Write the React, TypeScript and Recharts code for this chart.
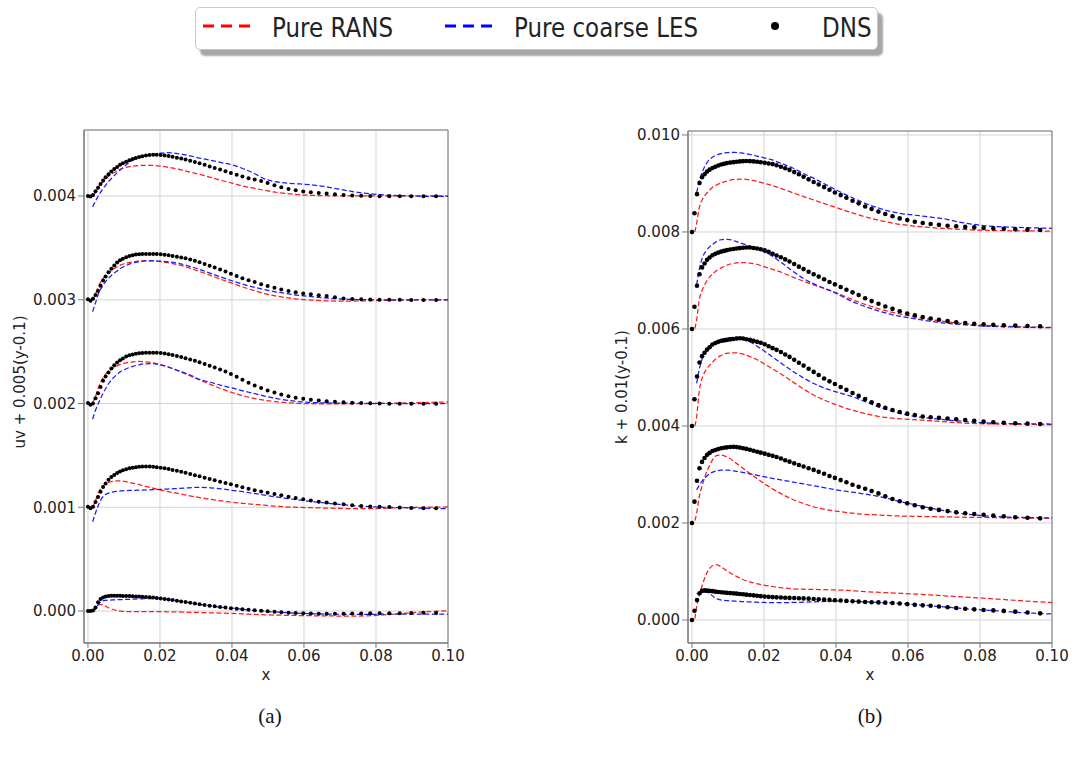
import React from 'react';
import { ComposedChart, Line, Scatter, XAxis, YAxis, CartesianGrid, ReferenceArea, Label } from 'recharts';

// ---------- shared axes ----------
const X_TICKS = [0, 0.02, 0.04, 0.06, 0.08, 0.1];
const UV_TICKS = [0, 0.001, 0.002, 0.003, 0.004];
const K_TICKS = [0, 0.002, 0.004, 0.006, 0.008, 0.01];
const X_DOMAIN = [-0.0011, 0.1];
const UV_DOMAIN = [-0.000308, 0.004636];
const K_DOMAIN = [-0.000474, 0.010082];

// curve baselines (value of 0.005(y-0.1) and 0.01(y-0.1))
const UV_OFFSETS = [0.004, 0.003, 0.002, 0.001, 0];
const K_OFFSETS = [0.008, 0.006, 0.004, 0.002, 0];
const UNIT = 1e-4; // deviations below are in units of 1e-4

// ---------- x positions ----------
const DNS_X = [0, 0.0007, 0.0014, 0.0021, 0.0028, 0.0035, 0.0042, 0.0049, 0.0057, 0.0065,
  0.0073, 0.0081, 0.0089, 0.0097, 0.0106, 0.0115, 0.0124, 0.0133, 0.0142, 0.0151,
  0.0161, 0.0171, 0.0181, 0.0191, 0.0202, 0.0213, 0.0224, 0.0235, 0.0247, 0.0259,
  0.0271, 0.0284, 0.0297, 0.031, 0.0324, 0.0338, 0.0352, 0.0367, 0.0382, 0.0397,
  0.0413, 0.0429, 0.0446, 0.0463, 0.0481, 0.0499, 0.0518, 0.0537, 0.0557, 0.0577,
  0.0598, 0.0619, 0.0641, 0.0663, 0.0686, 0.071, 0.0734, 0.0759, 0.0784, 0.081,
  0.0837, 0.0866, 0.0898, 0.0932, 0.0967];

const LINE_X_UV = [0.0013, 0.002, 0.003, 0.004, 0.005, 0.006, 0.007, 0.008, 0.009, 0.01,
  0.012, 0.014, 0.016, 0.018, 0.02, 0.022, 0.025, 0.028, 0.031, 0.034, 0.037, 0.04, 0.043,
  0.046, 0.049, 0.052, 0.055, 0.058, 0.062, 0.066, 0.07, 0.075, 0.08, 0.085, 0.09, 0.095, 0.1];

const LINE_X_K = [0.0008, 0.0013, 0.002, 0.003, 0.004, 0.005, 0.006, 0.007, 0.008, 0.009, 0.01,
  0.012, 0.014, 0.016, 0.018, 0.02, 0.022, 0.025, 0.028, 0.031, 0.034, 0.037, 0.04, 0.043,
  0.046, 0.049, 0.052, 0.055, 0.058, 0.062, 0.066, 0.07, 0.075, 0.08, 0.085, 0.09, 0.095, 0.1];

// ---------- (a) uv : Pure RANS ----------
const uvRans1 = [0.0, 0.3, 0.9, 1.3, 1.65, 1.97, 2.2, 2.4, 2.58, 2.7, 2.86, 2.93, 2.96, 2.95, 2.89, 2.78, 2.58, 2.33, 2.08, 1.8, 1.5, 1.25, 0.97, 0.76, 0.55, 0.37, 0.24, 0.13, 0.06, 0.03, 0.01, 0, 0, 0, 0, 0, 0];
const uvRans2 = [0.0, 0.5, 1.35, 1.95, 2.35, 2.67, 2.93, 3.15, 3.34, 3.47, 3.63, 3.72, 3.76, 3.74, 3.68, 3.58, 3.38, 3.08, 2.72, 2.35, 1.96, 1.6, 1.23, 0.9, 0.6, 0.38, 0.2, 0.07, -0.03, -0.1, -0.13, -0.12, -0.08, -0.05, -0.02, 0, 0];
const uvRans3 = [0.05, 0.6, 1.65, 2.35, 2.85, 3.18, 3.42, 3.62, 3.77, 3.87, 4.0, 4.05, 4.02, 3.93, 3.76, 3.55, 3.15, 2.72, 2.27, 1.84, 1.42, 1.06, 0.74, 0.5, 0.32, 0.18, 0.09, 0.02, -0.02, -0.03, -0.03, -0.02, 0, 0.03, 0.07, 0.11, 0.15];
const uvRans4 = [0.0, 0.55, 1.5, 2.0, 2.28, 2.42, 2.5, 2.54, 2.54, 2.5, 2.36, 2.2, 2.02, 1.85, 1.68, 1.53, 1.33, 1.12, 0.94, 0.76, 0.61, 0.49, 0.37, 0.28, 0.2, 0.1, 0.04, 0, -0.04, -0.08, -0.11, -0.13, -0.12, -0.06, -0.02, 0.01, 0.03];
const uvRans5 = [0.05, 0.3, 0.62, 0.62, 0.45, 0.28, 0.15, 0.06, 0.0, -0.03, -0.06, -0.06, -0.06, -0.06, -0.06, -0.07, -0.09, -0.12, -0.14, -0.17, -0.2, -0.23, -0.27, -0.32, -0.36, -0.39, -0.41, -0.43, -0.45, -0.47, -0.48, -0.48, -0.42, -0.3, -0.15, -0.05, 0.03];

// ---------- (a) uv : Pure coarse LES ----------
const uvLes1 = [-1.05, -0.55, 0.08, 0.62, 1.08, 1.5, 1.85, 2.2, 2.53, 2.82, 3.35, 3.7, 3.92, 4.05, 4.12, 4.17, 4.08, 3.9, 3.65, 3.45, 3.22, 3.0, 2.65, 2.2, 1.65, 1.38, 1.25, 1.18, 1.07, 0.9, 0.64, 0.35, 0.16, 0.06, 0.0, -0.03, -0.03];
const uvLes2 = [-1.15, -0.4, 0.65, 1.3, 1.8, 2.18, 2.5, 2.75, 3.02, 3.2, 3.5, 3.66, 3.74, 3.76, 3.72, 3.67, 3.52, 3.25, 2.93, 2.55, 2.18, 1.83, 1.5, 1.22, 0.98, 0.77, 0.6, 0.44, 0.3, 0.18, 0.08, 0.02, 0, 0, 0, 0, 0];
const uvLes3 = [-1.5, -0.75, 0.1, 0.85, 1.5, 2.05, 2.45, 2.78, 3.07, 3.25, 3.53, 3.72, 3.83, 3.84, 3.74, 3.55, 3.18, 2.8, 2.33, 2.05, 1.75, 1.5, 1.22, 0.98, 0.72, 0.5, 0.33, 0.2, 0.1, 0.06, 0.04, 0.03, 0.01, 0, 0, 0, 0];
const uvLes4 = [-1.4, -0.65, 0.3, 0.95, 1.25, 1.4, 1.48, 1.53, 1.57, 1.6, 1.63, 1.65, 1.67, 1.69, 1.72, 1.76, 1.81, 1.87, 1.93, 1.88, 1.78, 1.63, 1.5, 1.34, 1.17, 1.01, 0.86, 0.73, 0.57, 0.41, 0.27, 0.13, 0.03, -0.02, -0.06, -0.1, -0.13];
const uvLes5 = [-0.05, 0.15, 0.7, 0.98, 1.03, 1.06, 1.08, 1.09, 1.1, 1.11, 1.14, 1.17, 1.19, 1.2, 1.19, 1.12, 0.98, 0.81, 0.65, 0.5, 0.37, 0.27, 0.17, 0.07, -0.02, -0.09, -0.15, -0.2, -0.25, -0.29, -0.31, -0.32, -0.31, -0.29, -0.29, -0.29, -0.29];

// ---------- (a) uv : DNS ----------
const uvDns1 = [0, -0.05, 0.1, 0.45, 0.8, 1.15, 1.5, 1.8, 2.1, 2.35, 2.6, 2.8, 3.0, 3.15, 3.3, 3.45, 3.56, 3.66, 3.76, 3.83, 3.9, 3.95, 3.98, 3.98, 3.95, 3.9, 3.85, 3.77, 3.69, 3.61, 3.52, 3.4, 3.28, 3.15, 3.0, 2.85, 2.7, 2.55, 2.38, 2.22, 2.05, 1.88, 1.72, 1.58, 1.44, 1.25, 1.03, 0.85, 0.68, 0.55, 0.43, 0.35, 0.3, 0.25, 0.18, 0.1, 0.05, 0.02, 0, -0.02, -0.03, -0.03, -0.03, -0.03, -0.03];
const uvDns2 = [0.05, -0.1, 0.1, 0.45, 0.85, 1.35, 1.85, 2.25, 2.65, 3.0, 3.3, 3.58, 3.8, 3.95, 4.1, 4.22, 4.3, 4.35, 4.38, 4.4, 4.41, 4.42, 4.42, 4.41, 4.39, 4.34, 4.28, 4.22, 4.15, 4.07, 4.0, 3.88, 3.75, 3.62, 3.45, 3.28, 3.1, 2.92, 2.72, 2.5, 2.28, 2.08, 1.88, 1.7, 1.5, 1.32, 1.15, 0.98, 0.84, 0.72, 0.61, 0.52, 0.44, 0.35, 0.24, 0.13, 0.08, 0.05, 0.03, 0.01, 0, 0, -0.02, -0.02, -0.02];
const uvDns3 = [0.05, -0.12, 0, 0.5, 1.0, 1.6, 2.2, 2.6, 3.0, 3.38, 3.68, 3.95, 4.18, 4.35, 4.52, 4.65, 4.73, 4.8, 4.85, 4.88, 4.9, 4.9, 4.9, 4.89, 4.87, 4.82, 4.75, 4.67, 4.59, 4.48, 4.37, 4.25, 4.12, 3.98, 3.82, 3.65, 3.47, 3.28, 3.08, 2.85, 2.58, 2.3, 2.0, 1.73, 1.5, 1.26, 1.05, 0.86, 0.7, 0.56, 0.45, 0.37, 0.3, 0.23, 0.17, 0.12, 0.08, 0.05, 0.02, 0, -0.03, -0.03, -0.03, -0.03, -0.03];
const uvDns4 = [0.05, -0.1, 0.05, 0.5, 1.0, 1.5, 1.95, 2.3, 2.65, 2.92, 3.12, 3.3, 3.44, 3.56, 3.66, 3.75, 3.81, 3.86, 3.9, 3.92, 3.93, 3.92, 3.9, 3.86, 3.82, 3.76, 3.68, 3.6, 3.52, 3.42, 3.32, 3.2, 3.09, 2.98, 2.85, 2.72, 2.6, 2.47, 2.34, 2.21, 2.08, 1.94, 1.79, 1.64, 1.52, 1.4, 1.27, 1.15, 1.02, 0.89, 0.77, 0.65, 0.54, 0.45, 0.37, 0.28, 0.2, 0.13, 0.08, 0.05, 0.02, -0.03, -0.08, -0.1, -0.1];
const uvDns5 = [0, 0, 0.05, 0.35, 0.85, 1.15, 1.3, 1.4, 1.45, 1.47, 1.48, 1.48, 1.47, 1.46, 1.45, 1.44, 1.43, 1.41, 1.4, 1.38, 1.36, 1.33, 1.3, 1.26, 1.22, 1.17, 1.12, 1.06, 1.0, 0.93, 0.86, 0.79, 0.72, 0.65, 0.58, 0.51, 0.45, 0.39, 0.33, 0.28, 0.22, 0.17, 0.12, 0.07, 0.03, -0.02, -0.08, -0.12, -0.16, -0.19, -0.21, -0.23, -0.25, -0.26, -0.26, -0.25, -0.24, -0.23, -0.22, -0.22, -0.22, -0.22, -0.2, -0.16, -0.19];

// ---------- (b) k : Pure RANS ----------
const kRans1 = [0.05, 1.8, 4.9, 6.85, 7.9, 8.7, 9.35, 9.75, 10.1, 10.35, 10.55, 10.85, 10.9, 10.75, 10.45, 10.05, 9.65, 8.9, 8.1, 7.3, 6.55, 5.8, 5.05, 4.3, 3.6, 2.95, 2.4, 1.92, 1.55, 1.2, 0.93, 0.72, 0.52, 0.37, 0.28, 0.24, 0.21, 0.2];
const kRans2 = [0.1, 1.9, 5.9, 8.3, 9.75, 10.8, 11.55, 12.1, 12.55, 12.95, 13.25, 13.6, 13.7, 13.6, 13.35, 12.85, 12.4, 11.65, 10.7, 9.85, 9.05, 8.3, 7.5, 6.55, 5.65, 4.85, 4.15, 3.55, 3.05, 2.5, 1.98, 1.55, 1.15, 0.82, 0.62, 0.48, 0.4, 0.34];
const kRans3 = [0.05, 1.9, 7.0, 10.2, 11.65, 12.6, 13.4, 14.05, 14.5, 14.85, 15.0, 15.1, 14.85, 14.35, 13.7, 12.85, 11.95, 10.6, 9.1, 7.6, 6.3, 5.25, 4.4, 3.6, 2.95, 2.4, 1.95, 1.65, 1.45, 1.3, 1.1, 0.88, 0.62, 0.48, 0.41, 0.36, 0.31, 0.27];
const kRans4 = [0.5, 2.0, 5.3, 8.1, 10.4, 12.0, 13.35, 13.95, 14.0, 13.85, 13.55, 12.5, 11.4, 10.25, 9.2, 8.15, 7.2, 5.95, 4.85, 4.0, 3.3, 2.8, 2.45, 2.15, 1.9, 1.75, 1.63, 1.53, 1.44, 1.38, 1.32, 1.27, 1.2, 1.15, 1.1, 1.05, 1.0, 0.96];
const kRans5 = [0.3, 2.7, 5.0, 7.5, 9.5, 10.7, 11.3, 11.35, 11.0, 10.5, 10.0, 9.15, 8.4, 7.85, 7.5, 7.2, 6.95, 6.65, 6.45, 6.35, 6.3, 6.25, 6.2, 6.1, 5.95, 5.8, 5.7, 5.6, 5.5, 5.35, 5.2, 5.0, 4.75, 4.55, 4.3, 4.05, 3.8, 3.6];

// ---------- (b) k : Pure coarse LES ----------
const kLes1 = [null, 8.1, 10.3, 12.6, 14.1, 15.0, 15.55, 15.9, 16.15, 16.3, 16.38, 16.4, 16.25, 16.0, 15.65, 15.3, 14.9, 14.1, 13.2, 12.05, 11.0, 9.85, 8.7, 7.6, 6.6, 5.65, 4.9, 4.25, 3.8, 3.45, 3.1, 2.7, 1.95, 1.4, 1.1, 0.95, 0.85, 0.76];
const kLes2 = [null, 9.1, 12.2, 14.9, 16.2, 17.0, 17.6, 18.1, 18.4, 18.5, 18.5, 18.1, 17.6, 17.1, 16.6, 15.95, 15.15, 13.6, 11.9, 10.4, 9.25, 8.3, 7.4, 6.2, 5.2, 4.4, 3.7, 3.05, 2.6, 2.1, 1.6, 1.23, 0.9, 0.65, 0.5, 0.41, 0.33, 0.27];
const kLes3 = [null, 8.8, 11.6, 14.2, 15.65, 16.5, 17.05, 17.45, 17.75, 18.0, 18.15, 18.3, 18.0, 17.4, 16.5, 15.5, 14.45, 12.85, 11.3, 9.9, 8.7, 7.75, 7.05, 6.4, 5.65, 4.75, 3.9, 3.2, 2.55, 1.95, 1.6, 1.3, 0.98, 0.72, 0.57, 0.48, 0.44, 0.41];
const kLes4 = [null, 6.8, 7.7, 8.85, 9.6, 10.2, 10.55, 10.75, 10.9, 10.92, 10.9, 10.7, 10.45, 10.15, 9.85, 9.55, 9.25, 8.85, 8.45, 8.05, 7.65, 7.25, 6.85, 6.5, 6.2, 5.85, 5.45, 4.95, 4.4, 3.75, 3.1, 2.55, 1.95, 1.55, 1.3, 1.17, 1.1, 1.03];
const kLes5 = [null, 5.4, 5.6, 5.8, 5.75, 5.4, 4.8, 4.35, 4.15, 4.05, 3.98, 3.88, 3.8, 3.73, 3.67, 3.62, 3.6, 3.6, 3.62, 3.68, 3.75, 3.82, 3.88, 3.87, 3.82, 3.72, 3.62, 3.52, 3.4, 3.18, 2.95, 2.7, 2.38, 2.1, 1.88, 1.6, 1.4, 1.24];

// ---------- (b) k : DNS ----------
const kDns1 = [0, 3.85, 7.8, 10.1, 11.3, 11.9, 12.45, 12.85, 13.2, 13.45, 13.7, 13.9, 14.05, 14.2, 14.3, 14.4, 14.48, 14.55, 14.6, 14.62, 14.6, 14.55, 14.48, 14.38, 14.25, 14.12, 14.0, 13.75, 13.45, 13.15, 12.8, 12.35, 11.9, 11.4, 10.85, 10.3, 9.8, 9.25, 8.7, 8.15, 7.6, 7.05, 6.45, 5.9, 5.25, 4.75, 4.2, 3.7, 3.25, 2.8, 2.45, 2.12, 1.85, 1.65, 1.47, 1.3, 1.17, 1.05, 0.95, 0.82, 0.74, 0.66, 0.56, 0.48, 0.41];
const kDns2 = [0, 4.6, 8.9, 11.3, 12.7, 13.5, 14.25, 14.75, 15.2, 15.5, 15.75, 15.95, 16.1, 16.25, 16.4, 16.5, 16.6, 16.68, 16.75, 16.8, 16.8, 16.7, 16.6, 16.45, 16.2, 15.9, 15.5, 15.15, 14.8, 14.35, 13.9, 13.4, 12.85, 12.35, 11.8, 11.3, 10.8, 10.25, 9.7, 9.2, 8.65, 8.1, 7.55, 7.0, 6.35, 5.75, 5.2, 4.65, 4.15, 3.65, 3.2, 2.8, 2.45, 2.15, 1.9, 1.63, 1.38, 1.22, 1.07, 0.95, 0.85, 0.77, 0.7, 0.62, 0.55];
const kDns3 = [0, 5.5, 10.2, 13.1, 14.4, 15.1, 15.75, 16.25, 16.8, 17.1, 17.35, 17.55, 17.65, 17.75, 17.85, 17.95, 18.05, 18.1, 18.05, 17.9, 17.75, 17.55, 17.35, 17.15, 16.85, 16.45, 16.05, 15.7, 15.25, 14.75, 14.25, 13.65, 13.05, 12.45, 11.8, 11.15, 10.5, 9.8, 9.2, 8.65, 8.05, 7.45, 6.8, 6.2, 5.55, 4.9, 4.3, 3.75, 3.3, 2.9, 2.55, 2.25, 1.95, 1.8, 1.68, 1.55, 1.4, 1.25, 1.08, 0.9, 0.78, 0.67, 0.56, 0.48, 0.41];
const kDns4 = [0, 4.4, 8.7, 11.3, 12.6, 13.4, 14.05, 14.45, 14.85, 15.05, 15.25, 15.4, 15.5, 15.6, 15.67, 15.7, 15.65, 15.55, 15.42, 15.28, 15.1, 14.9, 14.7, 14.5, 14.3, 14.05, 13.85, 13.6, 13.3, 12.95, 12.65, 12.3, 11.95, 11.65, 11.3, 10.95, 10.55, 10.15, 9.7, 9.3, 8.85, 8.4, 7.9, 7.45, 7.05, 6.6, 6.1, 5.5, 4.95, 4.5, 4.05, 3.65, 3.25, 2.95, 2.7, 2.45, 2.2, 2.0, 1.85, 1.7, 1.55, 1.4, 1.2, 1.08, 0.96];
const kDns5 = [0, 1.9, 4.1, 5.5, 6.0, 6.1, 6.05, 6.0, 5.95, 5.85, 5.78, 5.72, 5.66, 5.6, 5.55, 5.5, 5.43, 5.36, 5.3, 5.23, 5.15, 5.08, 5.0, 4.92, 4.83, 4.77, 4.72, 4.67, 4.63, 4.59, 4.56, 4.53, 4.5, 4.46, 4.4, 4.34, 4.28, 4.22, 4.15, 4.08, 4.01, 3.94, 3.87, 3.8, 3.72, 3.67, 3.63, 3.58, 3.5, 3.4, 3.27, 3.13, 3.02, 2.93, 2.8, 2.64, 2.48, 2.32, 2.2, 2.06, 1.98, 1.88, 1.72, 1.55, 1.37];

// ---------- build point lists ----------
type Pt = { x: number; y: number | null };
const toPoints = (xs: number[], ys: (number | null)[], offset: number): Pt[] =>
  xs.map((x, i) => ({ x, y: ys[i] === null ? null : offset + (ys[i] as number) * UNIT }));

const uvRans = [uvRans1, uvRans2, uvRans3, uvRans4, uvRans5].map((s, i) => toPoints(LINE_X_UV, s, UV_OFFSETS[i]));
const uvLes = [uvLes1, uvLes2, uvLes3, uvLes4, uvLes5].map((s, i) => toPoints(LINE_X_UV, s, UV_OFFSETS[i]));
const uvDns = [uvDns1, uvDns2, uvDns3, uvDns4, uvDns5].map((s, i) => toPoints(DNS_X, s, UV_OFFSETS[i]));
const kRans = [kRans1, kRans2, kRans3, kRans4, kRans5].map((s, i) => toPoints(LINE_X_K, s, K_OFFSETS[i]));
const kLes = [kLes1, kLes2, kLes3, kLes4, kLes5].map((s, i) => toPoints(LINE_X_K, s, K_OFFSETS[i]));
const kDns = [kDns1, kDns2, kDns3, kDns4, kDns5].map((s, i) => toPoints(DNS_X, s, K_OFFSETS[i]));

const FONT = 'DejaVu Sans';
const TEXT = '#222';
const FRAME = '#7a7a7a';
const GRID = '#d4d4d4';

const makeDot = (r: number) => (p: any) => <circle cx={p.cx} cy={p.cy} r={r} fill="#000" />;

type PanelProps = {
  width: number; height: number; margin: any; yWidth: number;
  yDomain: number[]; yTicks: number[];
  rans: Pt[][]; les: Pt[][]; dns: Pt[][]; dotR: number;
  yLabel: string; yLabelX: number; yLabelY: number; xLabelX: number;
};

function Panel(props: PanelProps) {
  const { width, height, margin, yWidth, yDomain, yTicks, rans, les, dns, dotR, yLabel, yLabelX, yLabelY, xLabelX } = props;
  const dot = makeDot(dotR);
  return (
    <ComposedChart width={width} height={height} margin={margin}>
      <CartesianGrid stroke={GRID} strokeWidth={1} />
      <XAxis type="number" dataKey="x" domain={X_DOMAIN} ticks={X_TICKS} allowDataOverflow
        tickFormatter={(v: number) => v.toFixed(2)} height={40}
        stroke={FRAME} tickSize={5} tickMargin={2}
        tick={{ fill: TEXT, fontSize: 15, fontFamily: FONT }}>
        <Label content={() => (
          <text x={xLabelX} y={680} textAnchor="middle" fontSize={15} fontFamily={FONT} fill={TEXT}>x</text>
        )} />
      </XAxis>
      <YAxis type="number" domain={yDomain} ticks={yTicks} allowDataOverflow width={yWidth}
        tickFormatter={(v: number) => v.toFixed(3)}
        stroke={FRAME} tickSize={6} tickMargin={2}
        tick={{ fill: TEXT, fontSize: 15, fontFamily: FONT }}>
        <Label content={() => (
          <text x={yLabelX} y={yLabelY} transform={`rotate(-90 ${yLabelX} ${yLabelY})`} textAnchor="middle"
            dominantBaseline="central" fontSize={15} fontFamily={FONT} fill={TEXT}>{yLabel}</text>
        )} />
      </YAxis>
      <ReferenceArea x1={X_DOMAIN[0]} x2={X_DOMAIN[1]} y1={yDomain[0]} y2={yDomain[1]}
        fill="none" stroke={FRAME} strokeWidth={1} ifOverflow="visible" />
      {rans.map((d, i) => (
        <Line key={'r' + i} data={d} dataKey="y" type="monotone" stroke="#ff1a1a" strokeWidth={1.25}
          strokeDasharray="5 2.5" dot={false} activeDot={false} isAnimationActive={false} />
      ))}
      {les.map((d, i) => (
        <Line key={'l' + i} data={d} dataKey="y" type="monotone" stroke="#1a1aff" strokeWidth={1.25}
          strokeDasharray="5 2.5" dot={false} activeDot={false} isAnimationActive={false} />
      ))}
      {dns.map((d, i) => (
        <Scatter key={'d' + i} data={d} dataKey="y" shape={dot} isAnimationActive={false} />
      ))}
    </ComposedChart>
  );
}

function LegendBox() {
  const textStyle: React.CSSProperties = {
    position: 'absolute', top: 3, fontFamily: FONT, fontSize: 23, color: '#222',
    lineHeight: '34px', transform: 'scaleY(1.15)', whiteSpace: 'nowrap',
  };
  return (
    <div style={{
      position: 'absolute', left: 195, top: 7, width: 683, height: 43, boxSizing: 'border-box',
      border: '1px solid #c8c8c8', borderRadius: 5, background: '#fff',
      boxShadow: '5px 6px 2px rgba(0,0,0,0.35)',
    }}>
      <svg width={683} height={43} style={{ position: 'absolute', left: -1, top: -1 }}>
        <line x1={8} y1={19} x2={55} y2={19} stroke="#ff0000" strokeWidth={3} strokeDasharray="11 7" />
        <line x1={250} y1={19} x2={297} y2={19} stroke="#0000ff" strokeWidth={3} strokeDasharray="11 7" />
        <circle cx={580} cy={19} r={4} fill="#000" />
      </svg>
      <span style={{ ...textStyle, left: 76 }}>Pure RANS</span>
      <span style={{ ...textStyle, left: 318 }}>Pure coarse LES</span>
      <span style={{ ...textStyle, left: 626 }}>DNS</span>
    </div>
  );
}

export default function App() {
  return (
    <div style={{ position: 'absolute', left: 0, top: 0, width: 1076, height: 762, background: '#fff', overflow: 'hidden' }}>
      <LegendBox />
      <div style={{ position: 'absolute', left: 0, top: 0 }}>
        <Panel width={470} height={700} margin={{ top: 130, right: 22, bottom: 17, left: 0 }} yWidth={84}
          yDomain={UV_DOMAIN} yTicks={UV_TICKS} rans={uvRans} les={uvLes} dns={uvDns} dotR={2.0}
          yLabel="uv + 0.005(y-0.1)" yLabelX={20} yLabelY={382} xLabelX={266} />
      </div>
      <div style={{ position: 'absolute', left: 560, top: 0 }}>
        <Panel width={516} height={700} margin={{ top: 131, right: 24, bottom: 17, left: 0 }} yWidth={128}
          yDomain={K_DOMAIN} yTicks={K_TICKS} rans={kRans} les={kLes} dns={kDns} dotR={2.3}
          yLabel="k + 0.01(y-0.1)" yLabelX={62} yLabelY={387} xLabelX={310} />
      </div>
      <div style={{ position: 'absolute', left: 250, top: 704, width: 40, textAlign: 'center', fontFamily: 'Liberation Serif', fontSize: 21, color: '#111' }}>(a)</div>
      <div style={{ position: 'absolute', left: 850, top: 704, width: 40, textAlign: 'center', fontFamily: 'Liberation Serif', fontSize: 21, color: '#111' }}>(b)</div>
    </div>
  );
}
